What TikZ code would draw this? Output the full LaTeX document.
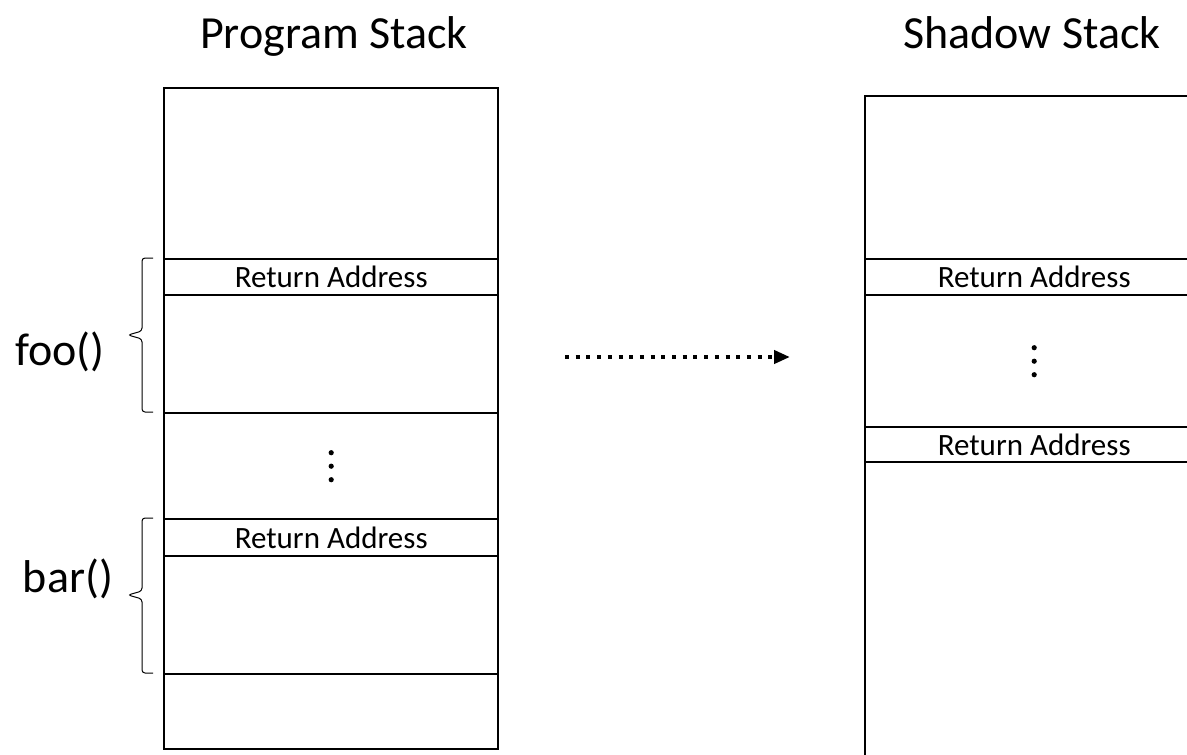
\documentclass[tikz,border=0pt]{standalone}
\usepackage{fontspec}
\setmainfont{Carlito}
\usetikzlibrary{arrows.meta}
\begin{document}
\begin{tikzpicture}[x=1pt,y=-1pt,
  cell/.style={draw, line width=2.4pt, inner sep=0pt, anchor=north west, font=\fontsize{31}{31}\selectfont},
  title/.style={font=\fontsize{46}{46}\selectfont, inner sep=0pt},
  func/.style={font=\fontsize{46}{46}\selectfont, inner sep=0pt},
  bracep/.style={line width=1pt, rounded corners=3pt},
  dotline/.style={line width=4pt, dash pattern=on 4pt off 6.7pt, -{Triangle[length=16pt,width=13pt]}}]
\useasboundingbox (0,0) rectangle (1187,755);
\clip (0,0) rectangle (1187,755);
% titles
\node[title, anchor=base] (t1) at (334,48) {Program Stack};
\node[title, anchor=base] (t2) at (1032,48) {Shadow Stack};
% program stack
\node[cell, minimum width=334pt, minimum height=171pt] (p0) at (163,87) {};
\node[cell, minimum width=334pt, minimum height=36pt] (ra1) at (163,258) {Return Address};
\node[cell, minimum width=334pt, minimum height=118pt] (foo) at (163,294) {};
\node[cell, minimum width=334pt, minimum height=106pt] (gap) at (163,412) {};
\node[cell, minimum width=334pt, minimum height=37pt] (ra2) at (163,518) {Return Address};
\node[cell, minimum width=334pt, minimum height=118pt] (bar) at (163,555) {};
\node[cell, minimum width=334pt, minimum height=75pt] (p6) at (163,673) {};
\foreach \dy in {-13.5,0,13.5} \fill ([yshift=-\dy pt]gap.center) circle (2.6pt);
% shadow stack
\node[cell, minimum width=338pt, minimum height=163pt] (s0) at (864,95) {};
\node[cell, minimum width=338pt, minimum height=36pt] (sra1) at (864,258) {Return Address};
\node[cell, minimum width=338pt, minimum height=132pt] (sgap) at (864,294) {};
\node[cell, minimum width=338pt, minimum height=35pt] (sra2) at (864,426) {Return Address};
\node[cell, minimum width=338pt, minimum height=340pt] (s4) at (864,461) {};
\foreach \dy in {-13.5,0,13.5} \fill ([yshift=-\dy pt]sgap.center) circle (2.6pt);
% arrow
\coordinate (a1) at (565,357);
\coordinate (a2) at (790,357);
\draw[dotline] (a1) -- (a2);
% braces and labels
\draw[bracep] (153,258) -- (142,258) -- (142,331) -- (128,335) -- (142,339) -- (142,412) -- (153,412);
\draw[bracep] (153,518) -- (142,518) -- (142,591) -- (128,595) -- (142,599) -- (142,673) -- (153,673);
\node[func] (lfoo) at (60,352) {foo()};
\node[func] (lbar) at (68,579) {bar()};
\end{tikzpicture}
\end{document}
